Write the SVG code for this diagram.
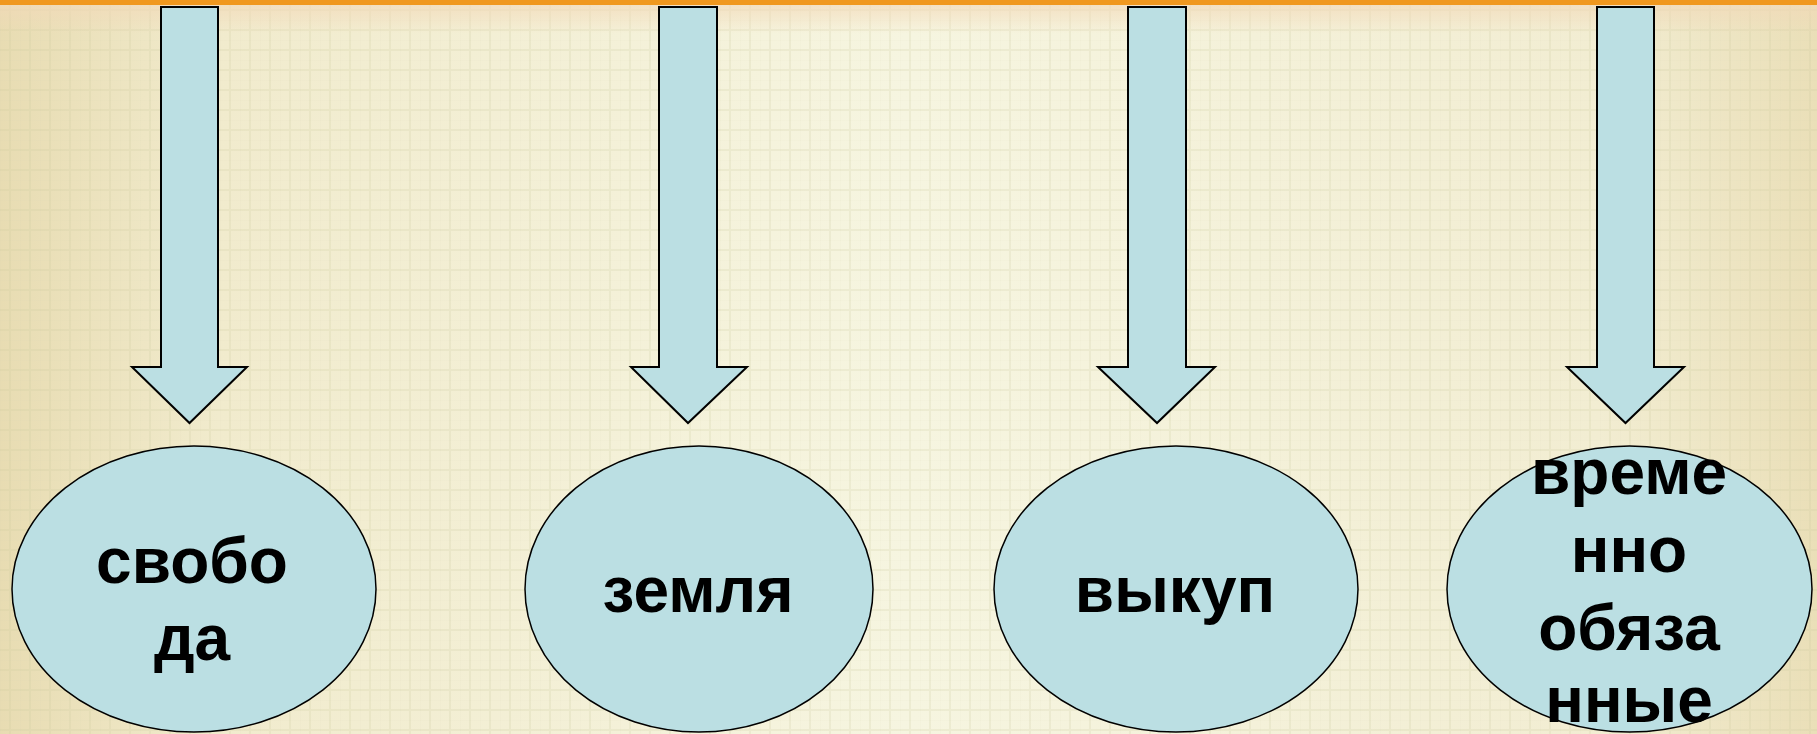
<svg xmlns="http://www.w3.org/2000/svg" width="1817" height="734" viewBox="0 0 1817 734">
<defs>
<linearGradient id="bg" x1="0" y1="0" x2="1" y2="0">
<stop offset="0" stop-color="#E8DCB2"/>
<stop offset="0.12" stop-color="#F1EBCD"/>
<stop offset="0.5" stop-color="#F6F5E0"/>
<stop offset="0.88" stop-color="#F2EDD2"/>
<stop offset="1" stop-color="#EADFB8"/>
</linearGradient>
<linearGradient id="topband" x1="0" y1="0" x2="0" y2="1">
<stop offset="0" stop-color="#F3D9B8" stop-opacity="0.7"/>
<stop offset="1" stop-color="#F3D9B8" stop-opacity="0"/>
</linearGradient>
<pattern id="grid" width="20" height="20" patternUnits="userSpaceOnUse">
<path d="M10 0V20M0 10H20" stroke="#C8C69A" stroke-opacity="0.2" stroke-width="2" fill="none"/>
<path d="M0 0V20M0 0H20" stroke="#D6D4AE" stroke-opacity="0.12" stroke-width="1" fill="none"/>
</pattern>
<style>
.arrow{fill:#BBDFE3;stroke:#000;stroke-width:2;stroke-linejoin:miter}
.node ellipse{fill:#BBDFE3;stroke:#000;stroke-width:1.5}
.node text{font-family:"Liberation Sans",Arial,sans-serif;font-weight:bold;font-size:64px;fill:#000;text-anchor:middle}
</style>
</defs>
<rect width="1817" height="734" fill="url(#bg)"/>
<rect width="1817" height="734" fill="url(#grid)"/>
<rect y="4" width="1817" height="30" fill="url(#topband)"/>
<rect width="1817" height="5" fill="#F0981F"/>
<g id="connectors">
<path class="arrow" d="M161 7H218V367H247L189.5 423L132 367H161Z"/>
<path class="arrow" d="M659 7H717V367H747L688 423L631 367H659Z"/>
<path class="arrow" d="M1128 7H1186V367H1215L1157 423L1098 367H1128Z"/>
<path class="arrow" d="M1597 7H1654V367H1684L1625.5 423L1567 367H1597Z"/>
</g>
<g id="node-svoboda" class="node">
<ellipse cx="194" cy="589" rx="182" ry="143"/>
<text x="192" y="583">свобо</text>
<text x="192" y="660">да</text>
</g>
<g id="node-zemlya" class="node">
<ellipse cx="699" cy="589" rx="174" ry="143"/>
<text x="698" y="612">земля</text>
</g>
<g id="node-vykup" class="node">
<ellipse cx="1176" cy="589" rx="182" ry="143"/>
<text x="1175" y="612">выкуп</text>
</g>
<g id="node-vremenno" class="node">
<ellipse cx="1629.5" cy="589" rx="182.5" ry="143"/>
<text x="1629" y="494">време</text>
<text x="1629" y="572">нно</text>
<text x="1629" y="650">обяза</text>
<text x="1629" y="722">нные</text>
</g>
</svg>
